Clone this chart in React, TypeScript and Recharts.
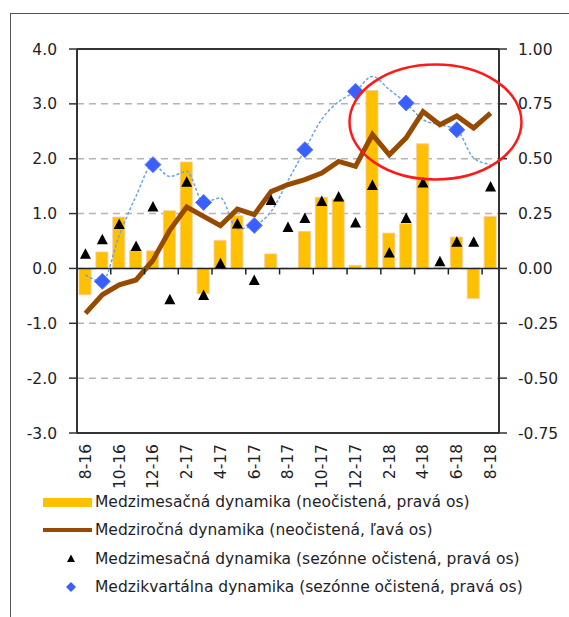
import { ComposedChart, Bar, Line, XAxis, YAxis, CartesianGrid, ReferenceLine } from "recharts"

const months = [
  "8-16", "9-16", "10-16", "11-16", "12-16", "1-17", "2-17", "3-17", "4-17", "5-17", "6-17", "7-17",
  "8-17", "9-17", "10-17", "11-17", "12-17", "1-18", "2-18", "3-18", "4-18", "5-18", "6-18", "7-18", "8-18",
]

// medzimesačná, neočistená (pravá os)
const momRaw = [
  -0.12, 0.075, 0.234, 0.081, 0.08, 0.263, 0.485, -0.115, 0.128, 0.24, -0.005, 0.066,
  -0.003, 0.169, 0.324, 0.316, 0.014, 0.811, 0.161, 0.204, 0.568, 0.005, 0.143, -0.137, 0.237,
]

// medziročná, neočistená (ľavá os)
const yoyRaw = [
  -0.82, -0.48, -0.3, -0.21, 0.15, 0.7, 1.12, 0.95, 0.78, 1.08, 0.98, 1.4,
  1.53, 1.62, 1.74, 1.95, 1.86, 2.44, 2.07, 2.38, 2.86, 2.62, 2.78, 2.56, 2.83,
]

// medzimesačná, sezónne očistená (pravá os)
const momSa = [
  0.065, 0.131, 0.2, 0.1, 0.28, -0.143, 0.393, -0.123, 0.021, 0.202, -0.055, 0.31,
  0.186, 0.227, 0.305, 0.325, 0.207, 0.378, 0.07, 0.227, 0.389, 0.03, 0.119, 0.119, 0.371,
]

// medzikvartálna, sezónne očistená - mesačný priebeh (pravá os)
const qoqMonthly = [
  -0.03, -0.059, 0.15, 0.33, 0.473, 0.419, 0.442, 0.301, 0.321, 0.18, 0.196, 0.26,
  0.4, 0.541, 0.68, 0.76, 0.807, 0.875, 0.815, 0.754, 0.678, 0.655, 0.632, 0.503, 0.473,
]

// medzikvartálna - konce štvrťrokov
const qoqQuarter = [
  null, -0.059, null, null, 0.473, null, null, 0.301, null, null, 0.196, null,
  null, 0.541, null, null, 0.807, null, null, 0.754, null, null, 0.632, null, null,
]

const leftTicks = [-3, -2, -1, 0, 1, 2, 3, 4]
const rightTicks = [-0.75, -0.5, -0.25, 0, 0.25, 0.5, 0.75, 1]

const legendLabels = [
  "Medzimesačná dynamika (neočistená, pravá os)",
  "Medziročná dynamika (neočistená, ľavá os)",
  "Medzimesačná dynamika (sezónne očistená, pravá os)",
  "Medzikvartálna dynamika (sezónne očistená, pravá os)",
]

const data = months.map((m, i) => ({
  month: m,
  momRaw: momRaw[i],
  yoyRaw: yoyRaw[i],
  momSa: momSa[i],
  qoqLine: qoqMonthly[i],
  qoqPoint: qoqQuarter[i],
}))

const W = 569
const H = 617
const PLOT_TOP = 49
const PLOT_BOTTOM = 433
const PLOT_LEFT = 77
const PLOT_RIGHT = 499
const plotH = PLOT_BOTTOM - PLOT_TOP
const zeroY = PLOT_TOP + (plotH * 4) / 7
const band = (PLOT_RIGHT - PLOT_LEFT) / months.length

const FONT = "DejaVu Sans"
const TEXT = "#1e1e28"
const BROWN = "#964B00"
const ORANGE = "#FFC000"
const BLUE = "#3A5FFF"

function MonthTick(props: any) {
  const { x, y, payload } = props
  const tx = x - band / 2
  const ty = y + 11
  return (
    <g>
      {payload.index > 0 && (
        <line x1={tx} x2={tx} y1={zeroY} y2={zeroY + 6} stroke="#222" strokeWidth={1.5} />
      )}
      <text
        x={x}
        y={ty}
        transform={`rotate(-90, ${x}, ${ty})`}
        textAnchor="end"
        dy="0.35em"
        fontSize={15.5}
        fontFamily={FONT}
        fill={TEXT}
      >
        {payload.value}
      </text>
    </g>
  )
}

function triangle(props: any) {
  const { cx, cy, index } = props
  if (cx == null || cy == null) return <g key={`t${index}`} />
  return <polygon key={`t${index}`} points={`${cx},${cy - 6} ${cx + 5.5},${cy + 4.5} ${cx - 5.5},${cy + 4.5}`} fill="#000" />
}

function diamond(props: any) {
  const { cx, cy, index, value } = props
  if (cx == null || cy == null || value == null) return <g key={`d${index}`} />
  return (
    <polygon
      key={`d${index}`}
      points={`${cx},${cy - 8} ${cx + 8},${cy} ${cx},${cy + 8} ${cx - 8},${cy}`}
      fill={BLUE}
      stroke="#5f7dff"
      strokeWidth={1}
    />
  )
}

export default function App() {
  return (
    <div style={{ position: "absolute", left: 0, top: 0, width: W, height: H, background: "#fff" }}>
      <div
        style={{
          position: "absolute",
          left: 10,
          top: 13,
          width: W - 10,
          height: H - 13,
          borderTop: "1.5px solid #555",
          borderLeft: "1.5px solid #555",
          boxSizing: "border-box",
        }}
      />
      <ComposedChart
        width={W}
        height={H}
        data={data}
        margin={{ top: PLOT_TOP, right: 0, bottom: 124, left: 0 }}
        barSize={12}
        style={{ position: "absolute", left: 0, top: 0 }}
      >
        <CartesianGrid
          yAxisId="left"
          vertical={false}
          stroke="#b4b4b4"
          strokeWidth={1.5}
          strokeDasharray="7 5"
        />
        <XAxis
          dataKey="month"
          interval={1}
          height={60}
          axisLine={false}
          tickLine={false}
          tickSize={0}
          tickMargin={0}
          tick={<MonthTick />}
        />
        <YAxis
          yAxisId="left"
          width={PLOT_LEFT}
          domain={[-3, 4]}
          ticks={leftTicks}
          tickFormatter={(v: number) => v.toFixed(1)}
          axisLine={{ stroke: "#333", strokeWidth: 2 }}
          tickLine={{ stroke: "#333", strokeWidth: 1.5 }}
          tickSize={8}
          tickMargin={12}
          tick={{ fill: TEXT, fontSize: 15.5, fontFamily: FONT }}
        />
        <YAxis
          yAxisId="right"
          orientation="right"
          width={W - PLOT_RIGHT}
          domain={[-0.75, 1]}
          ticks={rightTicks}
          tickFormatter={(v: number) => v.toFixed(2)}
          axisLine={{ stroke: "#333", strokeWidth: 2 }}
          tickLine={{ stroke: "#333", strokeWidth: 1.5 }}
          tickSize={8}
          tickMargin={11}
          tick={{ fill: TEXT, fontSize: 15.5, fontFamily: FONT }}
        />
        <ReferenceLine yAxisId="left" y={4} stroke="#333" strokeWidth={2} />
        <ReferenceLine yAxisId="left" y={-3} stroke="#333" strokeWidth={2} />
        <Bar
          yAxisId="right"
          dataKey="momRaw"
          fill={ORANGE}
          stroke="#f6c9a0"
          strokeWidth={0.8}
          isAnimationActive={false}
        />
        <ReferenceLine yAxisId="left" y={0} stroke="#222" strokeWidth={1.5} />
        <Line
          yAxisId="right"
          dataKey="qoqLine"
          type="monotone"
          stroke="#6fa3e0"
          strokeWidth={1.5}
          strokeDasharray="3 2"
          dot={false}
          activeDot={false}
          isAnimationActive={false}
        />
        <Line
          yAxisId="left"
          dataKey="yoyRaw"
          type="linear"
          stroke={BROWN}
          strokeWidth={5}
          dot={false}
          activeDot={false}
          isAnimationActive={false}
        />
        <Line
          yAxisId="right"
          dataKey="momSa"
          stroke="none"
          dot={triangle}
          activeDot={false}
          isAnimationActive={false}
        />
        <Line
          yAxisId="right"
          dataKey="qoqPoint"
          stroke="none"
          dot={diamond}
          activeDot={false}
          connectNulls={false}
          isAnimationActive={false}
        />
      </ComposedChart>
      <svg width={W} height={H} style={{ position: "absolute", left: 0, top: 0, pointerEvents: "none" }}>
        <ellipse cx={435.5} cy={122} rx={86} ry={57.5} fill="none" stroke="#ff1a1a" strokeWidth={2.5} />
        <rect x={43} y={498} width={49} height={9} fill={ORANGE} />
        <line x1={43} x2={92} y1={530} y2={530} stroke={BROWN} strokeWidth={4} />
        <polygon points="71,554.5 75,562 67,562" fill="#000" />
        <polygon points="71,582 76,587 71,592 66,587" fill={BLUE} />
        {legendLabels.map((t, i) => (
          <text
            key={t}
            x={95}
            y={[502, 530, 559, 587][i]}
            dy="0.35em"
            fontSize={15.5}
            fontFamily={FONT}
            fill={TEXT}
          >
            {t}
          </text>
        ))}
      </svg>
    </div>
  )
}
